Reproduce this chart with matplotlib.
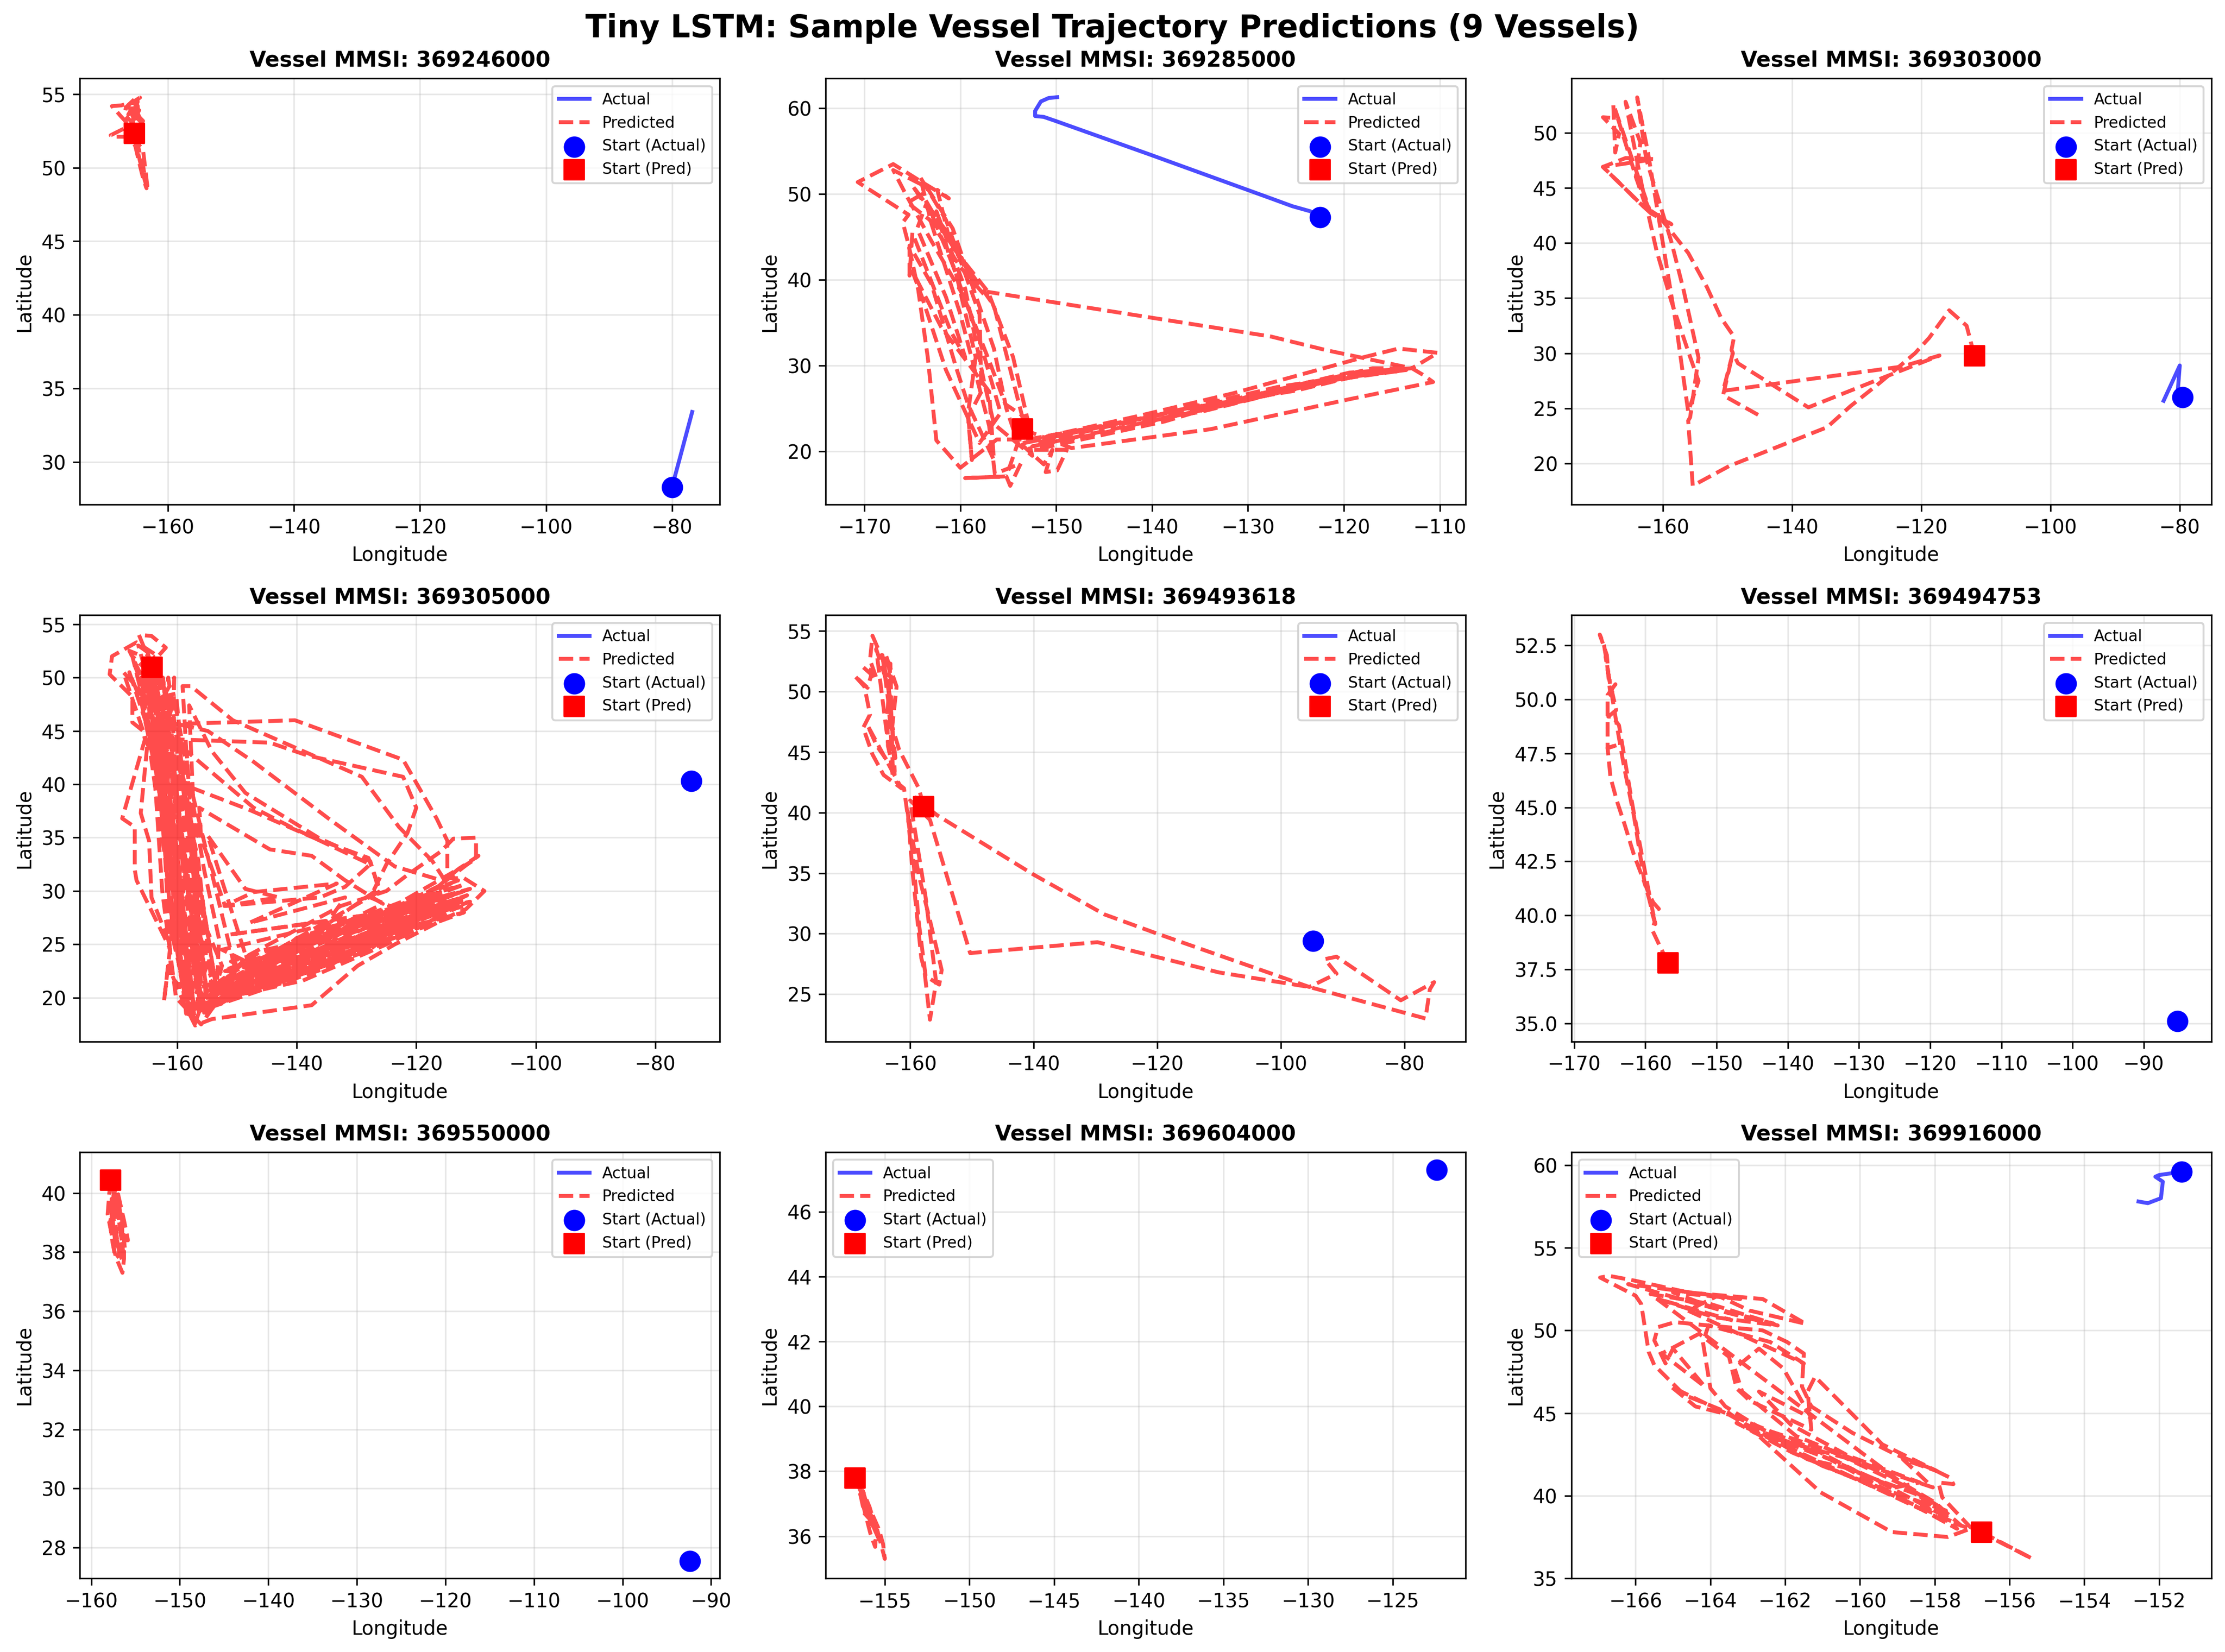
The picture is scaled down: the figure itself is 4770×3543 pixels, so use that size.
import numpy as np
import matplotlib
matplotlib.use('Agg')
import matplotlib.pyplot as plt

mmsi = ['369246000', '369285000', '369303000', '369305000', '369493618',
        '369494753', '369550000', '369604000', '369916000']

# (lon, lat), first point of each list is the start marker
actual_1 = [(-80, 28.3), (-78.8, 30.2), (-76.8, 33.4)]
pred_1 = [(-165.36, 52.33), (-165.06, 51.6), (-164.44, 50.43), (-163.7, 49.16), (-163.2, 48.47),
          (-163.95, 51.17), (-164.7, 51.6), (-165.36, 52.33), (-163.95, 53.17), (-164.94, 53.6),
          (-164.57, 53.9), (-166.8, 54.12), (-164.44, 54.76), (-165.2, 54.7), (-166.67, 54.1),
          (-166.8, 53.8), (-166.67, 53.5), (-165.93, 53.17), (-165.43, 53.3), (-164.7, 53.44),
          (-164.8, 54.2), (-165.7, 54.44), (-167.4, 54.23), (-168.9, 54.18), (-168.3, 53.9),
          (-167.5, 53.5), (-166.67, 53.12), (-167, 52.65), (-169.1, 52.2), (-168.5, 52.1), (-166.5, 52.1),
          (-165.2, 51.5), (-164.6, 50.4), (-163.9, 49.2), (-163.4, 48.6), (-163.9, 50), (-164.5, 51),
          (-165, 52), (-165.6, 53), (-165.2, 53.9), (-164.8, 54.5), (-165.7, 53.9), (-166.3, 53.6),
          (-165.4, 54.3), (-164.9, 53.2), (-165.9, 53.8), (-165.1, 53), (-164.4, 53.3), (-165.2, 54.1)]

actual_2 = [(-122.5, 47.3), (-123.5, 48), (-125.4, 48.6), (-127.6, 49.5), (-140.2, 54.6), (-150, 58.5),
            (-151.3, 59), (-152.2, 59.1), (-152.2, 59.7), (-151.6, 60.8), (-150.8, 61.2), (-149.9, 61.3)]
pred_2 = [(-153.5, 22.6), (-148.4, 20.4), (-133.9, 22.6), (-119.4, 26.1), (-110.7, 28.1), (-111.7, 28.9),
          (-112.9, 29.7), (-117, 29.7), (-124.2, 27.8), (-131.5, 26.1), (-138.7, 24.4), (-150.8, 21.8),
          (-153.7, 20.9), (-151.3, 18.5), (-150.4, 20.2), (-151.1, 17.6), (-149.9, 17.8), (-148.9, 20.2),
          (-152.3, 20.2), (-138.7, 23.5), (-130, 26.4), (-119.4, 29.2), (-112.9, 29.7), (-110.2, 31.5),
          (-114.3, 32), (-117.9, 31), (-131.5, 26.8), (-141.2, 24.2), (-150.4, 21.9), (-153.7, 20.9),
          (-140, 24.1), (-127, 27.5), (-116, 29.4), (-130, 26.1), (-145, 22.2), (-152.5, 20.6),
          (-134, 25), (-120, 28.6), (-113.5, 29.5), (-122, 28.2), (-135, 24.6), (-148, 22.4), (-152, 21),
          (-137, 24.9), (-125, 27.1), (-118, 29), (-128, 26.7), (-143, 23.4), (-153, 21.4),
          (-156.2, 21.4), (-160, 18.1), (-162.5, 21.3), (-163.4, 31), (-164.4, 38.9), (-165.4, 44.1),
          (-166, 46.7), (-165.4, 47.6), (-170.7, 51.4), (-167, 53.5), (-164, 51.4), (-161.2, 49.5),
          (-162.4, 50.5), (-161, 44.1), (-157.1, 38.6), (-154.5, 31), (-153, 23.8), (-155.3, 25.5),
          (-156.8, 30), (-159.6, 38), (-163, 44.5), (-165.7, 50), (-167, 52.8), (-163.5, 50.8),
          (-160.8, 46), (-156.5, 32), (-155.2, 25), (-154, 21), (-155.2, 17.1), (-159.5, 16.9),
          (-155.2, 17.1), (-154.8, 16), (-153.7, 18.6), (-156.4, 17.4), (-157, 23), (-160, 36),
          (-163, 46.5), (-164.2, 52), (-161.5, 47), (-158, 36), (-157.8, 27), (-159.2, 24),
          (-158.8, 19), (-159.2, 24.5), (-158.4, 31), (-160.5, 41), (-163.5, 49), (-164.5, 46),
          (-161.5, 38), (-159.5, 31), (-161, 34), (-165, 45.5), (-165.3, 40.5), (-165.3, 44),
          (-163, 39.5), (-160.5, 30), (-159.2, 25.5), (-156.5, 19), (-157, 27), (-162, 34.5),
          (-165, 41), (-164, 38), (-161.5, 29.5), (-158, 21), (-155.8, 24.5), (-158, 33),
          (-161.2, 43), (-162.5, 48), (-159.5, 39), (-157.5, 28), (-156.5, 23.2), (-152.5, 19.5),
          (-156.5, 37), (-159, 41), (-162, 46), (-165, 51), (-163, 48), (-161, 45), (-158.2, 39),
          (-164, 50), (-165.5, 49), (-163.2, 47), (-160, 41.5), (-157.3, 38), (-157.1, 38.6),
          (-127.6, 33.4), (-121.8, 31.8), (-112.9, 29.7)]

actual_3 = [(-79.6, 26), (-80.3, 26.7), (-80, 28.9), (-82.5, 25.7)]
pred_3 = [(-111.8, 29.8), (-113, 32.5), (-115.7, 33.9), (-118.8, 31.4), (-121, 30), (-126.5, 27.3),
          (-131, 25.2), (-134.6, 23.3), (-149.7, 19.8), (-155.4, 18), (-156.1, 23.9), (-155.8, 24.2),
          (-154.5, 29.6), (-156.8, 35.7), (-158.7, 40.1), (-162.6, 47.6), (-164, 53.2), (-162.3, 48.1),
          (-160, 39.9), (-158, 32.7), (-156.1, 24.7), (-154.5, 27.5), (-156, 30), (-158.7, 34.7),
          (-161, 39.3), (-163.2, 45), (-165.8, 52.8), (-163.5, 49.1), (-164.2, 46), (-162.6, 43.2),
          (-158.7, 41.7), (-161.9, 42.7), (-167.7, 52.6), (-167.4, 48.2), (-166.8, 49.9), (-169.3, 51.4),
          (-167, 51.3), (-164.2, 46), (-161.9, 42.7), (-163.2, 43.4), (-169.3, 46.9), (-165.8, 47.7),
          (-161.3, 47.6), (-169.3, 46.9), (-163.2, 43.4), (-160.3, 42.2), (-156.1, 39.1), (-153.2, 36),
          (-151, 33.2), (-149, 31.5), (-149.4, 30.3), (-148.4, 29.1), (-137.5, 25.1), (-125.9, 27.8),
          (-117.2, 29.8), (-123, 28.8), (-150.7, 26.6), (-149.2, 30), (-150.7, 26.2), (-144.9, 24.3)]

actual_4 = [(-74, 40.3), (-74.1, 40.25)]
pred_4 = [(-164.2, 50.95), (-166.4, 54), (-164.3, 53.9), (-161.9, 52.8), (-163.2, 52), (-166.8, 53.3),
          (-170.9, 52), (-171.3, 50.3), (-167.5, 48.2), (-167.5, 45.8), (-165.7, 45), (-165.4, 44.2),
          (-168.9, 37.4), (-169.2, 36.8), (-167.1, 36), (-167.1, 32), (-166.8, 31), (-161.2, 24.6),
          (-162.2, 19.7), (-161.5, 23), (-159.1, 19.8), (-157, 17.4), (-155.6, 17.7), (-154.2, 18),
          (-137.5, 19.3), (-129.8, 23), (-123.6, 25), (-113.8, 27.8), (-111.7, 28.3), (-108.6, 30),
          (-112, 31.2), (-114.8, 31.2), (-114.8, 34.7), (-116.6, 36.8), (-122.2, 42.3), (-140.3, 46),
          (-160, 45.65), (-165, 43.7), (-166.1, 37.3), (-164.7, 34.7), (-164.3, 29.4), (-161.2, 25),
          (-159.5, 32), (-162, 44), (-159.8, 44.2), (-144.5, 43.9), (-138.2, 42.7), (-122.2, 40.7),
          (-120, 37.8), (-121.5, 35.4), (-125, 32.5), (-127.7, 29.4), (-124, 28.5), (-110, 33), (-110, 35),
          (-113.8, 34.9), (-115.9, 33.7), (-121.5, 31.5), (-125, 30), (-132.6, 28.6), (-148, 24),
          (-155, 20), (-160, 45.65), (-154.9, 45), (-147.2, 42.1), (-134.7, 36.8), (-123.6, 32.3),
          (-115.2, 30.9), (-109.6, 33.3), (-113.1, 32), (-118, 29.6), (-135, 24), (-156, 19),
          (-159.1, 49.2), (-157.7, 49.2), (-150.7, 46), (-138.9, 43.1), (-129.1, 40.7), (-122.9, 36),
          (-117.3, 32.8), (-115, 30.8), (-140, 24), (-156, 21), (-158, 47.4), (-154.2, 43.1),
          (-148.6, 39.2), (-136.1, 34.9), (-127.7, 32.8), (-126.3, 30.2), (-145, 23), (-156, 19.5),
          (-158.4, 43.1), (-147.2, 37.8), (-141, 36), (-127.7, 32.5), (-131.9, 30.4), (-136.1, 29.4),
          (-152, 28.6), (-156, 35), (-156.3, 37.8), (-144.5, 33.9), (-137.5, 33.3), (-131.9, 31),
          (-125.6, 28.8), (-150, 22), (-157.7, 39.7), (-147.9, 37.6), (-136.8, 34.9), (-128, 33.1),
          (-126, 30), (-148, 23), (-154.9, 35.2), (-148.6, 30.2), (-143, 29.4), (-152.1, 28.6),
          (-147.2, 29.9), (-133.3, 30.7), (-148, 27), (-131.9, 29.4), (-134.7, 27.2), (-151.4, 25.9),
          (-127.7, 27.8), (-152, 20),
          # band
          (-155, 19), (-135, 23.3), (-112, 28), (-135, 24.6), (-153.5, 20.4), (-136, 25.6), (-113, 29.8),
          (-133, 25.6), (-154.5, 19.4), (-137, 23), (-115, 28.3), (-136, 24.4), (-152, 21.5),
          (-136, 26.4), (-111, 30.2), (-132, 26.4), (-153.8, 20.8), (-139, 22.4), (-118, 27),
          (-138, 24), (-155.5, 18.6), (-140, 25.6), (-112, 30.6), (-130, 26.9), (-152, 22.5),
          (-140, 22), (-116, 27.5), (-141, 23.4), (-154, 19.2), (-143, 24.6), (-113, 31), (-128, 27.2),
          (-151, 23.4), (-143, 21.4), (-121, 26), (-144, 22.6), (-153, 21.5), (-146, 24.4), (-112, 28.6),
          (-134, 25), (-155, 20), (-148, 20.8), (-124, 25.6), (-147, 23), (-152.5, 24.5), (-137, 26.6),
          (-112.5, 29.2), (-126, 26), (-155.2, 19.5), (-150, 20.2), (-128, 24.4), (-120, 28), (-111.5, 29.6),
          (-131, 24.2), (-154, 20.2), (-129, 27.5), (-114, 30.3), (-135, 22.8), (-156, 18.8),
          (-150, 21), (-140, 23), (-130, 25.2), (-120, 27.4), (-112, 29), (-122, 27.9), (-132, 24.9),
          (-142, 22.8), (-152, 20.6), (-145, 22), (-135, 24.2), (-125, 26.6), (-115, 29), (-127, 26.4),
          (-139, 23.6), (-149, 21.7), (-154.5, 21), (-144, 23.2), (-133, 25.1), (-121, 27.6), (-113, 29.3),
          (-123, 27.2), (-136, 23.9), (-147, 21.6), (-155, 20.6), (-146, 23), (-134, 25.9), (-119, 28.6),
          (-112, 30), (-124, 27.5), (-138, 25), (-150, 22.6), (-156, 20), (-143, 22), (-126, 25.4),
          (-116, 28.4), (-111, 29), (-128, 25.6), (-141, 22.4), (-153, 19.6), (-148, 22.2), (-137, 24.4),
          (-117, 29.4), (-130, 27), (-145, 24), (-155, 22), (-152, 20), (-139, 21.6), (-125, 25),
          (-113, 28.5), (-120, 26.6), (-133, 23.7), (-144, 21.6), (-156, 19.2),
          # spine
          (-157, 17.6), (-159.5, 30), (-163, 40), (-165.5, 47), (-168, 50.5), (-163, 42), (-160, 32),
          (-156, 19), (-158, 30), (-161.5, 40), (-162.5, 48), (-160.5, 50), (-160.8, 40), (-158, 29),
          (-155, 20), (-157, 31), (-159.5, 39), (-162, 49), (-167.5, 52), (-164, 44), (-162.5, 37),
          (-160.5, 25), (-157.5, 18), (-159.8, 25), (-161.5, 34), (-163.5, 41), (-166.5, 49), (-163, 46),
          (-159.2, 40), (-156, 30), (-153.5, 21), (-155.5, 28), (-158, 36), (-160.3, 44), (-163, 51),
          (-165, 49), (-162.5, 40), (-160, 27), (-158.5, 18.5), (-158.5, 26), (-160.5, 36), (-163.3, 47),
          (-169, 50.5), (-164.5, 43), (-162, 33), (-161, 22), (-159.5, 21), (-158.8, 33), (-161, 41),
          (-164, 48), (-160.2, 48.5), (-158.5, 39), (-155.5, 27), (-152.5, 23), (-154, 20), (-156.5, 33),
          (-159.8, 41), (-164, 52), (-166.5, 53), (-165, 50), (-163.5, 44), (-161.5, 36), (-159, 22),
          (-157, 25), (-157.8, 34), (-160.5, 46), (-161.5, 50), (-162.8, 45), (-161, 31), (-155, 18.5),
          (-156, 26), (-159, 37), (-161.5, 45), (-168, 52.5), (-165.8, 52), (-162.2, 41), (-159.5, 29),
          (-157.8, 19), (-155, 23), (-157.5, 36), (-161, 47), (-166, 50), (-163.8, 41), (-162.5, 30),
          (-160.2, 20), (-156, 17.5), (-153.5, 19.5), (-153, 25.5), (-155.5, 32), (-158.5, 42), (-160.5, 48),
          (-162, 45), (-161.2, 38), (-159.7, 30), (-158.2, 22), (-157.2, 19), (-158.7, 27), (-160.3, 35),
          (-162.2, 43), (-164.2, 50), (-162.7, 44), (-161.6, 37), (-160.1, 28), (-157.6, 20), (-156.6, 24),
          (-158.2, 32), (-160, 39), (-161.7, 47), (-163.6, 51), (-164.7, 47), (-162.9, 39), (-161.3, 29),
          (-158.8, 20), (-157.4, 27), (-159.2, 35), (-160.8, 43), (-163.4, 49), (-165.6, 51), (-163.2, 43),
          (-161.8, 33), (-159.7, 23), (-156.4, 18.5), (-157.6, 29), (-159.6, 37), (-161.2, 44), (-162.4, 50),
          (-160.7, 42), (-159, 32), (-156.8, 21), (-155.4, 25), (-157.2, 33), (-159.3, 41), (-161.4, 48),
          (-164.4, 52), (-162.2, 38), (-160.5, 31), (-159.1, 25), (-156.2, 22), (-158, 28), (-160, 38),
          (-163, 48), (-165, 52.5), (-160.6, 40), (-158.4, 34), (-156.7, 27), (-158, 18), (-159.2, 28),
          (-161.2, 36), (-162.6, 46), (-167, 51), (-163.7, 46), (-161.7, 41), (-160.5, 33), (-159, 26)]

actual_5 = [(-94.8, 29.4), (-94.9, 29.35)]
pred_5 = [(-157.8, 40.5), (-158.6, 42), (-161.8, 45.2), (-162.9, 47.1), (-162.2, 50.4), (-164, 53.1),
          (-162.9, 50.8), (-166.1, 54.6), (-166.5, 52.6), (-165.4, 51), (-167.6, 52), (-166.1, 51.7),
          (-166.9, 50.3), (-169, 51.3), (-167.4, 50.4), (-166.5, 48.1), (-167.6, 47), (-166.1, 44.8),
          (-164.3, 43.1), (-161.4, 42), (-166.9, 47.2), (-165.4, 45.5), (-162.5, 43.4), (-163.2, 49.4),
          (-164.5, 53), (-163.5, 49), (-163, 45.5), (-162.4, 44.5), (-163.6, 50.5), (-165.5, 53.5),
          (-163.9, 47), (-162.8, 43), (-163.2, 52.3), (-163.7, 48), (-163.6, 45.5), (-162.2, 42.5),
          (-161, 42), (-159.6, 36.7), (-158.6, 30.9), (-157.5, 26.5), (-155.3, 25.8), (-154.9, 27),
          (-156.8, 31.1), (-158.6, 34.8), (-160.4, 40.1), (-159.6, 35), (-158.2, 28), (-157.7, 27),
          (-156.8, 22.9), (-155.8, 26), (-157.5, 33), (-160, 41), (-156.8, 39.4), (-150.3, 28.4),
          (-129.7, 29.3), (-110, 26.8), (-95.4, 25.6), (-76.6, 23), (-75.9, 25.4), (-75.2, 26),
          (-80.6, 24.5), (-91, 28.1), (-92.9, 27.9), (-91, 26.7), (-95.4, 25.6), (-100.4, 26.5),
          (-120, 30), (-128.6, 31.6), (-140.1, 34.9), (-155.7, 39.8), (-159.3, 41.3)]

actual_6 = [(-85.3, 35.1), (-85.4, 35.15)]
pred_6 = [(-156.8, 37.8), (-158, 38.6), (-159, 39.3), (-158.7, 39.7), (-159.1, 40.2), (-158.1, 40.3),
          (-158.9, 40.6), (-159.5, 41), (-160.1, 41.5), (-161.6, 42.8), (-162.9, 44.2), (-164, 45.3),
          (-164.9, 46.4), (-165.3, 47.75), (-163.8, 47.9), (-165.3, 47.75), (-165.3, 50.2), (-164.2, 50.7),
          (-164.9, 50.2), (-165.4, 51.7), (-165.8, 52.5), (-166.4, 53), (-165.4, 52.05), (-165.2, 51.2),
          (-163.8, 48.4), (-163, 46.9), (-161.6, 44.6), (-160.1, 41.5), (-159.5, 40.8), (-158.6, 39.6),
          (-159.4, 40.9), (-161.7, 44.9), (-163.7, 48.8), (-164.6, 49.2), (-165.2, 49.2), (-164.1, 49.5),
          (-165.1, 51), (-165.6, 52)]

actual_7 = [(-92.4, 27.55), (-92.5, 27.6)]
pred_7 = [(-157.8, 40.43), (-157.97, 39.98), (-158.15, 39.28), (-157.7, 38.6), (-157.36, 38),
          (-157.18, 37.8), (-156.48, 37.3), (-156.3, 37.78), (-156.3, 38.4), (-155.86, 38.4),
          (-156.3, 39.07), (-157, 40), (-157.54, 39.5), (-157.89, 39), (-157.6, 38.33), (-157.27, 37.8),
          (-156.39, 38), (-156.83, 39), (-157.36, 39.9), (-157.7, 39.2), (-157.3, 38.4), (-156.9, 37.9),
          (-156.6, 38.5), (-157.1, 39.5), (-157.5, 40.1), (-157.3, 39), (-157, 38.2), (-156.5, 37.7),
          (-156.5, 38.8), (-156.9, 39.7), (-157.7, 39.8), (-157.5, 38.8), (-156.7, 38), (-156.2, 38.1),
          (-156.6, 39.3), (-157.2, 40.2), (-157.85, 39.5), (-157.1, 38.7)]

actual_8 = [(-122.4, 47.3), (-122.5, 47.25)]
pred_8 = [(-156.76, 37.79), (-156.45, 37.42), (-155.8, 36.75), (-155.34, 36.2), (-155.1, 35.75),
          (-155, 35.3), (-155.25, 35.8), (-155.5, 36.3), (-156.2, 36.7), (-156.45, 37.3),
          (-155.85, 36.08), (-155.57, 35.67), (-155.5, 36.2), (-155.9, 36.9), (-156.3, 37.4),
          (-155.6, 36.2), (-155.3, 35.85), (-155.7, 36.5), (-156.2, 37.1), (-156.55, 37.55),
          (-156, 36.9), (-155.45, 36.1), (-155.75, 36.35), (-156.35, 37.2)]

actual_9 = [(-151.4, 59.6), (-152, 59.4), (-152.1, 59.3), (-151.9, 59), (-151.95, 58), (-152.3, 57.7), (-152.55, 57.8)]
pred_9 = [(-156.75, 37.8), (-155.4, 36.2), (-157.05, 38.1), (-157.8, 39.9), (-157.9, 40.8), (-157.5, 40.7),
          (-157.6, 41.1), (-158.05, 41.6), (-159.05, 42.5), (-160.2, 43.8), (-161.3, 45.4), (-161.55, 46.6),
          (-161.5, 48.6), (-161.95, 49.3), (-162.6, 50), (-164.05, 50.3), (-164.2, 49.3), (-164, 46.5),
          (-163.6, 45.4), (-162.6, 44), (-161.3, 42.9), (-159.95, 41.3), (-158.5, 40.1), (-157.95, 38.7),
          (-157.05, 38), (-157.65, 37.5), (-159.15, 37.8), (-161.05, 40.2), (-162.7, 43.6), (-163.5, 45),
          (-164.7, 46.1), (-165.5, 47.9), (-165.65, 48.7), (-165.85, 51.6), (-166, 52.1), (-166.95, 53.2),
          (-166.7, 53.3), (-166, 53), (-164.6, 52.3), (-162.6, 51.9), (-161.45, 50.4), (-162.95, 51.2),
          (-163.8, 52.1), (-164.6, 51.2), (-163.05, 49.6), (-161.5, 48), (-162.4, 49.3), (-164.05, 50.3),
          (-164.95, 50.5), (-165.4, 50.2), (-165.5, 49.4), (-165.2, 48), (-165, 48.9), (-164.15, 46.6),
          (-165.3, 48.6), (-164.3, 49.8), (-163.5, 48.4), (-163.3, 46.5), (-162.95, 45.75), (-161.3, 44),
          (-161.4, 46.3), (-161.2, 47.2), (-159.4, 43.1), (-157.95, 41.5), (-158.85, 42.2), (-158.05, 40.5),
          (-159.5, 41.6), (-161.7, 43.6), (-163.15, 46.3), (-163.35, 47.7), (-162.7, 48.9), (-162.05, 47.7),
          (-161.3, 44.7), (-162.7, 46.3), (-161.85, 44.3), (-160.3, 42.4), (-158.4, 40.8), (-159.05, 40.5),
          (-160.4, 41.7), (-161.4, 42.2), (-162.4, 43.5), (-163.5, 44.9), (-164.4, 45.4), (-165.05, 46.6),
          (-163.6, 45), (-162.4, 43.9), (-160.8, 42.7), (-159.2, 41.2), (-158, 39.6), (-157.3, 38.2),
          (-158.3, 39.2), (-160, 40.9), (-161.8, 42.6), (-163.3, 44.4), (-158.2, 39), (-157.4, 38),
          (-160.8, 42.2), (-162.2, 43.4), (-160.4, 42.3), (-158.8, 40.6), (-157.7, 39.1), (-159, 40.1),
          (-161, 41.8), (-162.9, 44.1), (-161.5, 42.9), (-159.7, 41.1), (-157.6, 38.6),
          (-165.6, 52.2), (-164, 51.6), (-162.3, 50.4), (-164.5, 51.7), (-166.2, 52.8), (-163.2, 51.9),
          (-165, 52.3), (-163.6, 51.1), (-162.2, 50.3), (-163.9, 50.8), (-165.4, 51.9), (-163.4, 50.6)]

actuals = [actual_1, actual_2, actual_3, actual_4, actual_5, actual_6, actual_7, actual_8, actual_9]
preds = [pred_1, pred_2, pred_3, pred_4, pred_5, pred_6, pred_7, pred_8, pred_9]
xlims = [(-174, -72.4), (-174.06, -107.3), (-174.2, -75.1), (-176.3, -69.2), (-173.7, -70.1),
         (-170.4, -80.5), (-161.3, -89), (-158.5, -120.7), (-167.72, -150.6)]
ylims = [(27.1, 56.07), (13.8, 63.5), (16.28, 54.93), (15.9, 55.85), (21.1, 56.3),
         (34.16, 53.9), (26.96, 41.39), (34.7, 47.85), (35, 60.8)]

fig, axes = plt.subplots(3, 3, figsize=(15.9, 11.81))
fig.subplots_adjust(left=0.03585, right=0.9939, top=0.9526, bottom=0.0446, wspace=0.165, hspace=0.259)

for i, ax in enumerate(axes.flat):
    act = np.array(actuals[i])
    pred = np.array(preds[i])
    ax.plot(act[:, 0], act[:, 1], 'b-', linewidth=2, alpha=0.7, label='Actual')
    ax.plot(pred[:, 0], pred[:, 1], 'r--', linewidth=2, alpha=0.7, label='Predicted')
    ax.scatter(act[0, 0], act[0, 1], c='blue', s=100, marker='o', zorder=5, label='Start (Actual)')
    ax.scatter(pred[0, 0], pred[0, 1], c='red', s=100, marker='s', zorder=5, label='Start (Pred)')
    ax.set_xlim(xlims[i])
    ax.set_ylim(ylims[i])
    ax.set_xlabel('Longitude', fontsize=10)
    ax.set_ylabel('Latitude', fontsize=10)
    ax.set_title('Vessel MMSI: ' + mmsi[i], fontsize=11, fontweight='bold')
    ax.grid(True, alpha=0.3)
    ax.legend(fontsize=8, loc='upper left' if i >= 7 else 'upper right')

fig.suptitle('Tiny LSTM: Sample Vessel Trajectory Predictions (9 Vessels)',
             fontsize=16, fontweight='bold', y=0.992)
fig.savefig('out.png', dpi=300)
